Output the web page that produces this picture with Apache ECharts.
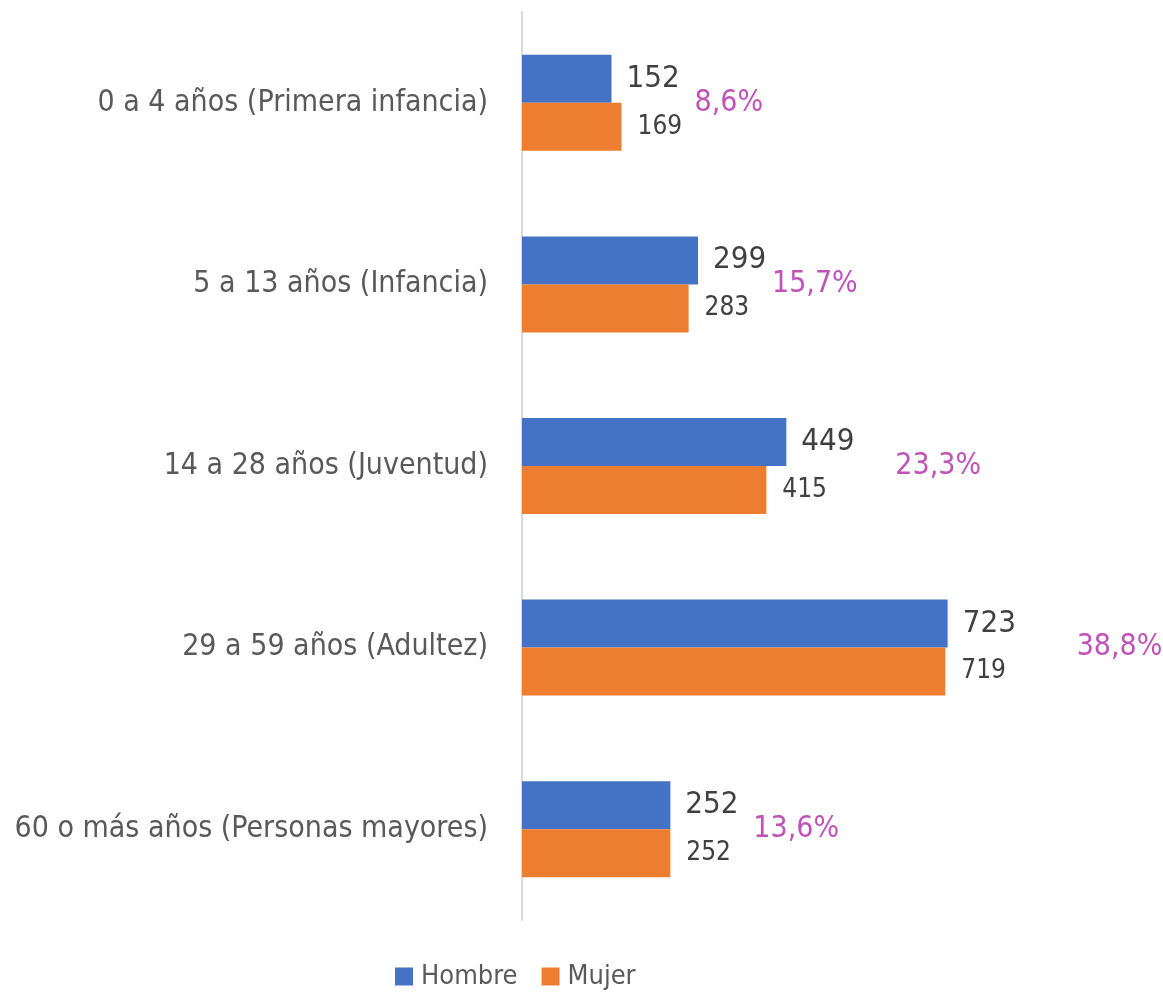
<!DOCTYPE html>
<html>
<head>
<meta charset="utf-8">
<script src="https://cdn.jsdelivr.net/npm/echarts@6/dist/echarts.min.js"></script>
<style>
	html, body {margin: 0; padding: 0; background: #fff;}
	#chart {width: 1163px; height: 993px;}
</style>
</head>
<body>
<div id="chart"></div>
<script>
var categories = [
	'0 a 4 años (Primera infancia)',
	'5 a 13 años (Infancia)',
	'14 a 28 años (Juventud)',
	'29 a 59 años (Adultez)',
	'60 o más años (Personas mayores)'
];
var hombre = [152, 299, 449, 723, 252];
var mujer = [169, 283, 415, 719, 252];
var porcentaje = ['8,6%', '15,7%', '23,3%', '38,8%', '13,6%'];

// desplazamiento horizontal de cada etiqueta de porcentaje (px)
var pctOffsets = [83, 74, 109, 129, 83];

var font = '"DejaVu Sans Condensed", "Liberation Sans Narrow", sans-serif';

var barChart = echarts.init(document.getElementById('chart'));

var barChartOptions = {
	animation: false,
	grid: {
		left: 522,
		right: 170,
		top: 12,
		bottom: 73,
		containLabel: false,
		outerBoundsMode: 'none'
	},
	legend: {
		top: 958,
		left: 390,
		itemWidth: 18,
		itemHeight: 18,
		itemGap: 24,
		icon: 'rect',
		textStyle: {
			fontFamily: font,
			fontSize: 27,
			color: '#595959',
			padding: [0, 0, 0, 3]
		},
		data: ['Hombre', 'Mujer']
	},
	xAxis: {
		type: 'value',
		min: 0,
		max: 800,
		show: false
	},
	yAxis: {
		type: 'category',
		inverse: true,
		data: categories,
		axisLine: {lineStyle: {color: '#d9d9d9', width: 2}},
		axisTick: {show: false},
		axisLabel: {
			fontFamily: font,
			fontSize: 30,
			color: '#595959',
			margin: 34
		}
	},
	series: [
		{
			name: 'Hombre',
			type: 'bar',
			data: hombre,
			barWidth: 48,
			barGap: '0%',
			itemStyle: {color: '#4472C4'},
			label: {
				show: true,
				position: 'right',
				distance: 15,
				fontFamily: font,
				fontSize: 31,
				color: '#404040'
			}
		},
		{
			name: 'Mujer',
			type: 'bar',
			data: mujer,
			barWidth: 48,
			barGap: '0%',
			itemStyle: {color: '#ED7D31'},
			label: {
				show: true,
				position: 'right',
				distance: 16,
				fontFamily: font,
				fontSize: 26,
				color: '#404040'
			}
		},
		{
			name: 'Porcentaje',
			type: 'scatter',
			symbolSize: 0,
			silent: true,
			data: hombre.map(function (v, i) {
				return {
					value: [Math.max(v, mujer[i]), i],
					label: {offset: [pctOffsets[i] - (Math.max(v, mujer[i]) - v) * 0.589, 0]}
				};
			}),
			label: {
				show: true,
				position: 'right',
				distance: 0,
				fontFamily: font,
				fontSize: 30,
				color: '#B026A6',
				formatter: function (p) {
					return porcentaje[p.dataIndex];
				}
			}
		}
	]
};

barChart.setOption(barChartOptions);
</script>
</body>
</html>
